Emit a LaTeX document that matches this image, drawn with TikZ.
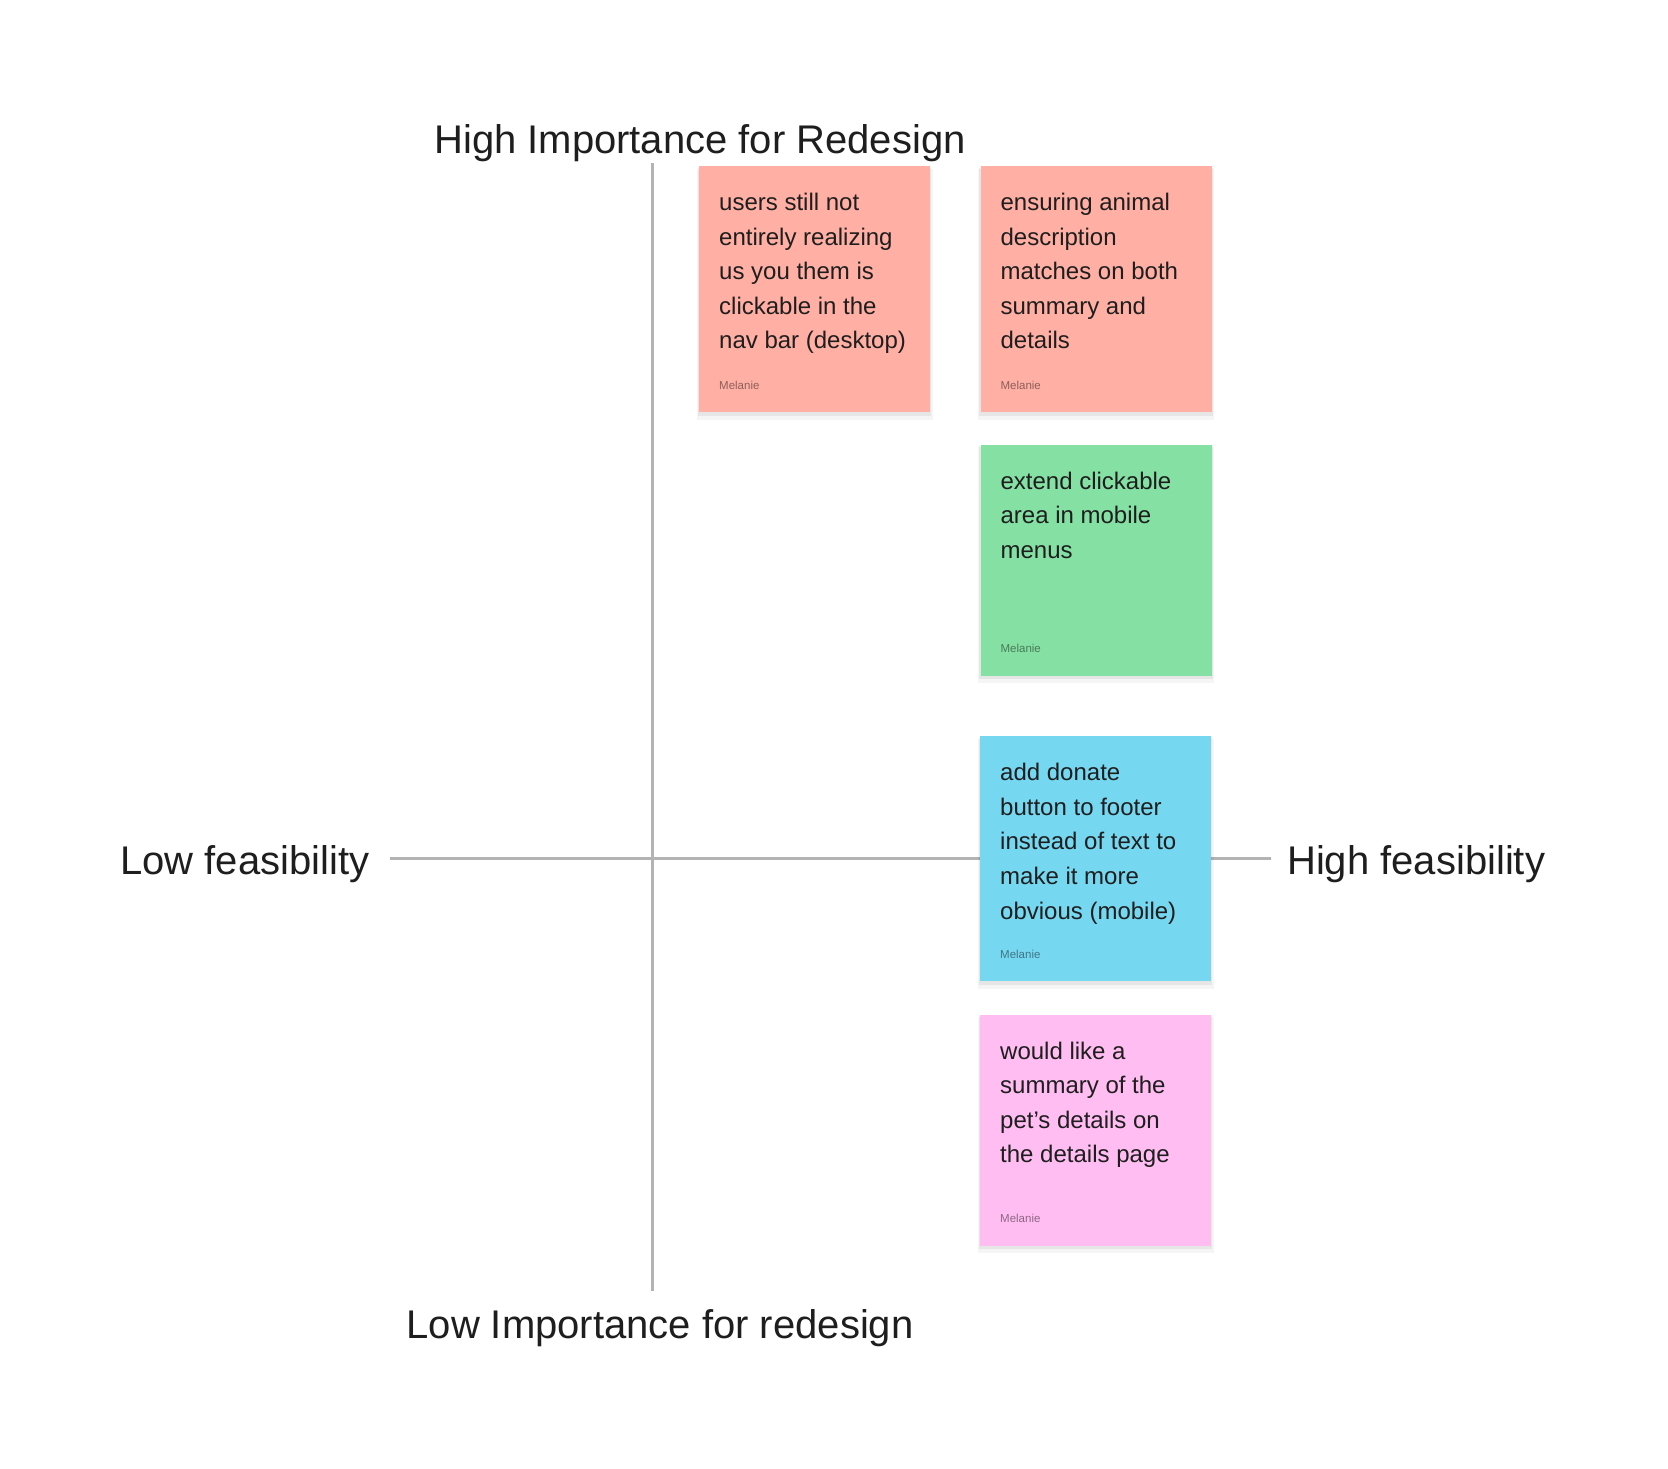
\documentclass[tikz,border=0pt]{standalone}
\usepackage{fontspec}
\setmainfont{Liberation Sans}
\usetikzlibrary{positioning,shadows}
\definecolor{inkdark}{HTML}{1E1E1E}
\definecolor{axisgray}{HTML}{B3B3B3}
\definecolor{stickyred}{HTML}{FFAFA3}
\definecolor{stickygreen}{HTML}{85E0A3}
\definecolor{stickyblue}{HTML}{75D7F0}
\definecolor{stickypink}{HTML}{FFBDF2}

\begin{document}
\begin{tikzpicture}[
    x=1pt,
    y=-1pt,
    axis/.style={
        draw=axisgray,
        line width=3pt
    },
    axis label/.style={
        text=inkdark,
        font=\fontsize{40}{48}\selectfont,
        inner sep=0pt
    },
    sticky/.style={
        anchor=north west,
        minimum width=231pt,
        minimum height=231pt,
        inner sep=0pt,
        drop shadow={shadow xshift=0pt, shadow yshift=-5pt,
            shadow scale=1.02, opacity=0.04, fill=black},
        drop shadow={shadow xshift=0pt, shadow yshift=-2.5pt,
            shadow scale=1.01, opacity=0.06, fill=black}
    },
    sticky text/.style={
        anchor=north west,
        inner sep=0pt,
        align=left,
        text=inkdark,
        font=\fontsize{24}{34.6}\selectfont,
        execute at begin node={\rule{0pt}{18pt}}
    },
    sticky author/.style={
        anchor=base west,
        inner sep=0pt,
        text=black,
        text opacity=0.45,
        font=\fontsize{11.5}{14}\selectfont
    },
    ]
    \useasboundingbox[fill=white] (0,0) rectangle (1668,1468);

    \coordinate (imp top) at (652,163);
    \coordinate (imp bottom) at (652,1291);
    \coordinate (feas left) at (390,858);
    \coordinate (feas right) at (1271,858);
    \draw[axis] (imp top) -- (imp bottom);
    \draw[axis] (feas left) -- (feas right);

    \node[axis label, anchor=base] (high imp) at (700,153) {High Importance for Redesign};
    \node[axis label, anchor=base] (low imp) at (660,1338) {Low Importance for redesign};
    \node[axis label, anchor=base west] (low feas) at (120,874) {Low feasibility};
    \node[axis label, anchor=base west] (high feas) at (1287,874) {High feasibility};

    \node[sticky, fill=stickyred, minimum height=246pt] (navbar) at (699,166) {};
    \node[sticky, fill=stickyred, minimum height=246pt, right=50pt of navbar.north east, anchor=north west] (animal) {};
    \node[sticky, fill=stickygreen, below=32pt of animal.south west, anchor=north west] (menus) {};
    \node[sticky, fill=stickyblue, minimum height=245pt] (donate) at (980,736) {};
    \node[sticky, fill=stickypink, below=33pt of donate.south west, anchor=north west] (summary) {};

    \node[sticky text] (navbar text) at ([shift={(20pt,-27pt)}]navbar.north west)
        {users still not\\entirely realizing\\us you them is\\clickable in the\\nav bar (desktop)};
    \node[sticky text] (animal text) at ([shift={(20pt,-27pt)}]animal.north west)
        {ensuring animal\\description\\matches on both\\summary and\\details};
    \node[sticky text] (menus text) at ([shift={(20pt,-27pt)}]menus.north west)
        {extend clickable\\area in mobile\\menus};
    \node[sticky text] (donate text) at ([shift={(20pt,-27pt)}]donate.north west)
        {add donate\\button to footer\\instead of text to\\make it more\\obvious (mobile)};
    \node[sticky text] (summary text) at ([shift={(20pt,-27pt)}]summary.north west)
        {would like a\\summary of the\\pet’s details on\\the details page};

    \node[sticky author] (navbar author) at ([shift={(20pt,23pt)}]navbar.south west) {Melanie};
    \node[sticky author] (animal author) at ([shift={(20pt,23pt)}]animal.south west) {Melanie};
    \node[sticky author] (menus author) at ([shift={(20pt,23pt)}]menus.south west) {Melanie};
    \node[sticky author] (donate author) at ([shift={(20pt,23pt)}]donate.south west) {Melanie};
    \node[sticky author] (summary author) at ([shift={(20pt,23pt)}]summary.south west) {Melanie};
\end{tikzpicture}
\end{document}
